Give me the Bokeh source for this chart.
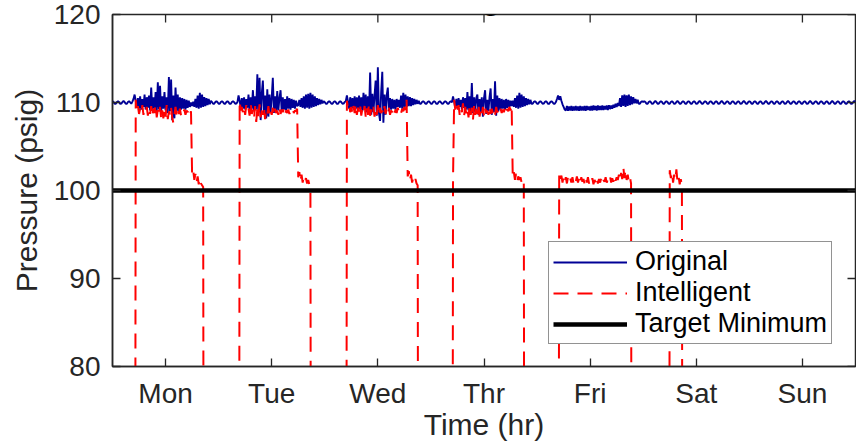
import numpy as np
from bokeh.plotting import figure
from bokeh.models import Range1d, FixedTicker, Label
from bokeh.embed import file_html
from bokeh.resources import INLINE

# ---------------- data ----------------
step_hr = 0.25                      # sampling step of the series (hours)
day_ticks = [12, 36, 60, 84, 108, 132, 156]
day_labels = ["Mon", "Tue", "Wed", "Thr", "Fri", "Sat", "Sun"]
y_ticks = [80, 90, 100, 110, 120]
target_minimum = 100.0
intelligent_off = 0.0               # compressor off: pressure falls far below the axis

# Original pressure, one list per day, 0.25 h samples
original_mon = [110.16, 110.04, 109.86, 109.85, 110.06, 110.15, 110.03, 109.84, 109.87, 110.05,
                110.17, 110.04, 109.85, 109.86, 110.06, 110.15, 110.02, 109.86,
                110.1, 110.4, 110.9, 110.2,
                109.4, 110.5, 109.3, 110.7, 109.2, 110.4, 109.5, 110.9, 109.2, 110.6,
                109.4, 110.8, 109.1, 111.7, 109.2, 110.6, 109.3, 111.2, 109.0, 112.3,
                109.2, 111.9, 108.9, 110.7, 109.3, 111.2, 109.1, 110.6, 108.8, 112.9,
                109.0, 112.6, 108.0, 110.8, 108.2, 111.7, 109.0, 110.9, 108.9, 110.6,
                109.2, 110.5, 109.3, 110.4, 109.2, 110.3, 109.4, 110.2, 109.5, 110.0,
                109.6, 110.1,
                109.5, 110.4, 109.4, 110.8, 109.3, 111.1, 109.4, 110.9, 109.5, 110.6,
                109.6, 110.5, 109.7, 110.4, 109.8,
                110.2, 110.05, 109.85, 109.86, 110.05, 110.16, 110.03]
original_tue = [109.86, 109.85, 110.06, 110.15, 110.04, 109.85, 109.86, 110.05, 110.16, 110.03,
                109.84, 109.86, 110.06, 110.15, 110.04, 109.85, 109.87, 110.05,
                110.8, 110.2,
                109.4, 110.5, 109.3, 110.6, 109.2, 110.4, 109.4, 110.9, 109.1, 110.6,
                109.3, 111.4, 109.0, 110.7, 109.2, 113.2, 108.9, 112.8, 108.0, 111.0,
                112.5, 108.6, 110.8, 108.2, 111.5, 108.4, 110.9, 108.9, 110.6, 112.8,
                108.8, 110.7, 109.0, 111.3, 109.1, 110.5, 111.4, 109.0, 110.6, 109.2,
                110.4, 109.1, 110.7, 109.3, 110.5, 109.2, 110.4, 109.4, 110.3, 109.3,
                110.2, 109.6,
                109.7, 110.3, 109.5, 110.5, 109.4, 110.7, 109.3, 110.9, 109.4, 111.0,
                109.3, 111.1, 109.4, 110.9, 109.5, 110.7, 109.6, 110.5, 109.7, 110.4,
                109.8, 110.3, 109.9,
                110.15]
original_wed = [110.04, 109.86, 109.85, 110.05, 110.16, 110.03, 109.85, 109.86, 110.06, 110.15,
                110.04, 109.84, 109.86, 110.05, 110.16, 110.03, 109.85, 109.87, 110.06, 110.15,
                110.8, 110.1,
                109.3, 110.6, 109.4, 110.5, 109.2, 110.7, 109.3, 110.6,
                109.1, 110.8, 109.2, 110.6, 109.0, 111.1, 109.2, 110.9, 108.9, 110.7,
                108.8, 113.4, 108.6, 111.0, 108.9, 110.8, 112.5, 108.5, 114.0, 108.8,
                107.9, 111.2, 113.5, 107.7, 110.9, 108.6, 110.8, 111.7, 109.0, 110.5,
                109.2, 110.4, 109.3, 110.3, 109.2, 110.4, 109.5,
                110.3, 109.4, 110.8, 109.3, 111.1, 109.4, 110.9, 109.5, 110.7, 109.6,
                110.6, 109.6, 110.5, 109.7, 110.4, 109.8, 110.3, 109.85, 110.2,
                109.86, 109.85, 110.05, 110.16, 110.04, 109.85, 109.86, 110.06, 110.15, 110.03]
original_thr = [109.85, 109.86, 110.05, 110.16, 110.04, 109.84, 109.86, 110.06, 110.15, 110.03,
                109.85, 109.87, 110.05, 110.16, 110.04, 109.85, 109.86, 110.06, 110.15, 110.03,
                110.7, 110.1,
                109.4, 110.4, 109.3, 110.5, 109.5, 110.3, 109.2, 110.6,
                109.4, 110.5, 109.2, 111.2, 109.1, 110.7, 109.0, 112.2, 108.8, 110.6,
                108.9, 110.5, 110.9, 108.6, 110.4, 108.9, 110.6, 108.4, 110.5, 111.4,
                108.7, 110.3, 109.0, 110.6, 111.6, 108.6, 110.4, 108.9, 112.4, 108.5,
                110.8, 109.0, 110.5, 109.2, 110.4, 109.3, 110.3, 109.2, 110.4, 109.4,
                110.3, 109.5, 110.2, 109.6,
                110.2, 109.5, 110.5, 109.4, 110.8, 109.3, 111.1, 109.4, 110.9, 109.5,
                110.7, 109.6, 110.5, 109.7, 110.4, 109.8, 110.3,
                109.86, 109.85, 110.05, 110.16, 110.04]
original_fri = [109.85, 109.86, 110.06, 110.15, 110.03, 109.85, 109.87, 110.05, 110.16, 110.04,
                109.84, 109.86, 110.06, 110.15, 110.03, 109.85, 109.86, 110.05,
                110.4, 110.8, 110.3, 110.7, 110.2,
                109.8, 109.5, 109.2,
                109.1, 109.6, 109.05, 109.55, 109.1, 109.6, 109.05, 109.55, 109.1, 109.6,
                109.1, 109.55, 109.05, 109.6, 109.1, 109.55, 109.1, 109.6, 109.05, 109.6,
                109.15, 109.55, 109.1, 109.6, 109.1, 109.65, 109.15, 109.6, 109.1, 109.65,
                109.15, 109.6, 109.15, 109.65, 109.15, 109.6, 109.2, 109.65, 109.15, 109.7,
                109.25, 109.65, 109.3, 109.75, 109.4, 109.85, 109.5, 109.95,
                109.6, 110.5, 109.5, 110.8, 109.6, 110.9, 109.5, 110.8, 109.6, 110.9,
                109.7, 110.7, 109.8, 110.6, 109.9, 110.4, 109.9, 110.3,
                109.86, 109.85, 110.05, 110.16]
original_sat = [110.05, 110.16, 110.04, 109.85, 109.86, 110.06, 110.15, 110.03, 109.84, 109.87,
                110.05, 110.17, 110.04, 109.86, 109.85, 110.04, 110.15, 110.05, 109.85, 109.86,
                110.05, 110.16, 110.04, 109.85, 109.86, 110.06, 110.15, 110.03, 109.84, 109.87,
                110.05, 110.17, 110.04, 109.86, 109.85, 110.04, 110.15, 110.05, 109.85, 109.86,
                110.05, 110.16, 110.04, 109.85, 109.86, 110.06, 110.15, 110.03, 109.84, 109.87,
                110.05, 110.17, 110.04, 109.86, 109.85, 110.04, 110.15, 110.05, 109.85, 109.86,
                110.05, 110.16, 110.04, 109.85, 109.86, 110.06, 110.15, 110.03, 109.84, 109.87,
                110.05, 110.17, 110.04, 109.86, 109.85, 110.04, 110.15, 110.05, 109.85, 109.86,
                110.05, 110.16, 110.04, 109.85, 109.86, 110.06, 110.15, 110.03, 109.84, 109.87,
                110.05, 110.17, 110.04, 109.86, 109.85, 110.05]
original_sun = [110.15, 110.05, 109.85, 109.86, 110.05, 110.16, 110.04, 109.85, 109.86, 110.06,
                110.15, 110.03, 109.84, 109.87, 110.05, 110.17, 110.04, 109.86, 109.85, 110.04,
                110.15, 110.05, 109.85, 109.86, 110.05, 110.16, 110.04, 109.85, 109.86, 110.06,
                110.15, 110.03, 109.84, 109.87, 110.05, 110.17, 110.04, 109.86, 109.85, 110.04,
                110.15, 110.05, 109.85, 109.86, 110.05, 110.16, 110.04, 109.85, 109.86, 110.06,
                110.15, 110.03, 109.84, 109.87, 110.05, 110.17, 110.04, 109.86, 109.85, 110.04,
                110.15, 110.05, 109.85, 109.86, 110.05, 110.16, 110.04, 109.85, 109.86, 110.06,
                110.15, 110.03, 109.84, 109.87, 110.05, 110.17, 110.04, 109.86, 109.85, 110.04,
                110.15, 110.05, 109.85, 109.86, 110.05, 110.16, 110.04, 109.85, 109.86, 110.06,
                110.15, 110.03, 109.84, 109.87, 110.05, 110.17, 110.04]

# Intelligent pressure: active spans (start hour, 0.25 h samples); off elsewhere
intelligent_mon_start = 5.25
intelligent_mon = [110.3, 109.0, 109.6, 108.7, 109.3, 108.8, 109.7, 108.6, 109.2, 108.9,
                   109.5, 108.5, 109.4, 108.7, 109.6, 108.4, 109.3, 108.8, 109.8, 108.3,
                   109.2, 108.6, 109.5, 108.2, 109.1, 108.2, 109.3, 108.4, 109.7, 108.1,
                   109.0, 108.5, 109.4, 108.3, 107.7, 108.6, 109.5, 108.4, 109.1, 108.7,
                   109.3, 108.5, 109.0, 108.8, 109.2, 108.6, 109.1, 108.9, 109.3, 108.7,
                   109.0,
                   101.8, 102.3, 101.2, 101.9, 100.9, 101.6, 100.7, 101.4, 100.8, 100.6, 100.4]
intelligent_tue_start = 28.75
intelligent_tue = [110.2, 109.1, 109.5, 108.8, 109.4, 108.6, 109.7, 108.9, 109.3, 108.5,
                   110.0, 108.7, 109.2, 108.2, 109.6, 107.8, 109.3, 108.4, 109.8, 108.3,
                   109.1, 108.6, 109.5, 108.1, 109.2, 108.7, 109.6, 108.4, 109.0, 108.6,
                   109.4, 108.5, 109.3, 108.8, 109.1, 108.6, 109.5, 108.7, 109.2, 108.9,
                   109.3, 108.6, 109.1, 108.8, 109.2, 108.7, 109.0, 108.9, 109.3, 108.8,
                   109.1, 109.0, 109.3,
                   101.5, 102.1, 101.0, 101.8, 100.9, 101.6, 101.1, 101.4, 100.8, 101.2, 100.7, 100.5]
intelligent_wed_start = 53.0
intelligent_wed = [110.2, 109.3, 109.7, 108.9, 109.5, 108.7, 109.6, 108.8, 109.8, 108.6,
                   109.4, 108.9, 109.7, 108.5, 109.3, 108.8, 109.6, 108.4, 109.4, 108.6,
                   109.9, 108.5, 109.2, 108.7, 109.5, 108.4, 109.3, 108.6, 109.7, 108.5,
                   109.4, 108.8, 109.1, 108.6, 109.6, 108.7, 109.2, 108.8, 109.4, 108.6,
                   109.1, 108.9, 109.3, 108.7, 109.2, 108.8, 109.4, 108.9, 109.2, 108.8,
                   109.3, 109.0, 109.5, 109.1, 110.3,
                   101.6, 102.2, 101.1, 101.8, 100.9, 101.5, 101.0, 101.3, 100.8, 100.6]
intelligent_thr_start = 77.0
intelligent_thr = [101.4,
                   110.3, 109.2, 109.6, 108.8, 109.7, 108.6, 109.4, 108.9, 109.9, 108.5,
                   109.5, 108.7, 109.3, 108.3, 109.7, 108.6, 109.4, 108.0, 109.6, 108.5,
                   109.3, 108.7, 109.8, 108.4, 109.2, 108.6, 109.5, 108.5, 109.4, 108.8,
                   109.1, 108.6, 109.6, 108.7, 109.3, 108.8, 109.2, 108.6, 109.5, 108.9,
                   109.1, 108.7, 109.3, 108.8, 109.2, 108.9, 109.4, 108.8, 109.3, 109.0,
                   109.5, 109.1, 109.7,
                   101.5, 102.1, 101.2, 101.9, 101.0, 101.6, 101.2, 101.5, 100.9, 101.3, 100.7]
intelligent_fri_start = 101.0
intelligent_fri = [101.9, 101.2, 101.7, 100.9, 101.6, 101.0, 101.5, 100.8, 101.6, 101.1,
                   101.4, 100.9, 101.5, 100.8, 101.3, 101.0, 101.6, 100.9, 101.4, 100.8,
                   101.5, 101.0, 101.3, 100.7, 101.4, 100.9, 101.5, 100.8, 101.3, 101.0,
                   101.4, 100.7, 101.2, 100.9, 101.5, 100.8, 101.3, 100.9, 101.4, 100.8,
                   101.2, 101.0, 101.5, 100.9, 101.3, 101.1, 101.6, 100.9, 101.4, 101.0,
                   101.7, 101.1, 101.5, 101.2, 101.8, 101.1, 102.0, 101.3, 102.7, 101.4,
                   102.4, 101.2, 101.8, 101.0, 101.5, 100.8]
intelligent_sat_start = 126.0
intelligent_sat = [102.3, 101.4, 102.1, 100.9, 101.8, 101.2, 102.4, 101.0, 101.6, 100.7, 101.3, 100.5]

# ---------------- assemble series ----------------
original = (original_mon + original_tue + original_wed + original_thr +
            original_fri + original_sat + original_sun)
hours = np.arange(len(original)) * step_hr

segments = [(intelligent_mon_start, intelligent_mon), (intelligent_tue_start, intelligent_tue),
            (intelligent_wed_start, intelligent_wed), (intelligent_thr_start, intelligent_thr),
            (intelligent_fri_start, intelligent_fri), (intelligent_sat_start, intelligent_sat)]
int_t = [hours[0]]
int_v = [intelligent_off]
for start, vals in segments:
    int_t.append(start - step_hr)
    int_v.append(intelligent_off)
    int_t.extend(start + np.arange(len(vals)) * step_hr)
    int_v.extend(vals)
    int_t.append(start + len(vals) * step_hr)
    int_v.append(intelligent_off)
int_t.append(hours[-1])
int_v.append(intelligent_off)

# ---------------- figure ----------------
FONT = "Liberation Sans"
AX = "#262626"

x_range = Range1d(0, 168)
y_range = Range1d(80, 120)
p = figure(width=856, height=444, x_range=x_range, y_range=y_range,
           output_backend="svg", toolbar_location=None,
           min_border_left=112, min_border_right=1, min_border_top=14, min_border_bottom=78,
           x_axis_label="Time (hr)", y_axis_label="Pressure (psig)")
p.outline_line_color = AX
p.outline_line_width = 1.5
p.grid.visible = False
p.background_fill_color = "white"
p.border_fill_color = "white"

p.line(hours, original, color="#000096", line_width=1.9, legend_label="Original")
p.line(int_t, int_v, color="#ff0000", line_width=2, line_dash="15 9", legend_label="Intelligent")
p.line([hours[0], hours[-1]], [target_minimum, target_minimum], color="black", line_width=4.5,
       legend_label="Target Minimum")

# inward ticks on the top and right edges of the box
p.ray(x=day_ticks, y=[y_range.end] * len(day_ticks), length=8, length_units="screen",
      angle=-np.pi / 2, color=AX, line_width=1.3)
p.ray(x=[x_range.end] * len(y_ticks), y=y_ticks, length=8, length_units="screen",
      angle=np.pi, color=AX, line_width=1.3)

p.xaxis.ticker = FixedTicker(ticks=day_ticks)
p.yaxis.ticker = FixedTicker(ticks=y_ticks)
p.xaxis.major_label_overrides = {t: l for t, l in zip(day_ticks, day_labels)}

for ax in p.axis:
    ax.major_tick_in = 8
    ax.major_tick_out = 0
    ax.minor_tick_in = 0
    ax.minor_tick_out = 0
    ax.axis_line_color = AX
    ax.axis_line_width = 1.5
    ax.major_tick_line_color = AX
    ax.major_tick_line_width = 1.3
    ax.major_label_text_font = FONT
    ax.major_label_text_color = AX
    ax.major_label_text_font_size = "28px"
    ax.axis_label_text_font = FONT
    ax.axis_label_text_font_style = "normal"
    ax.axis_label_text_color = AX
    ax.axis_label_text_font_size = "30px"

p.xaxis.major_label_standoff = 11
p.xaxis.axis_label_standoff = -4
p.yaxis.major_label_standoff = 12
p.yaxis.axis_label_standoff = 8

leg = p.legend[0]
leg.location = (436, 22)
leg.label_text_font = FONT
leg.label_text_font_size = "27px"
leg.label_text_color = "black"
leg.label_height = 30
leg.glyph_height = 30
leg.glyph_width = 74
leg.label_standoff = 8
leg.padding = 4
leg.spacing = 0
leg.margin = 0
leg.border_line_color = AX
leg.border_line_width = 1.5
leg.background_fill_alpha = 1.0

title = Label(x=88.6, y=121.6, text="Air Storage Pressure", text_align="center",
              text_baseline="alphabetic", text_font=FONT, text_font_size="29px",
              text_font_style="bold", text_color="black")
p.add_layout(title)

open("out.html", "w").write(file_html(p, INLINE))
